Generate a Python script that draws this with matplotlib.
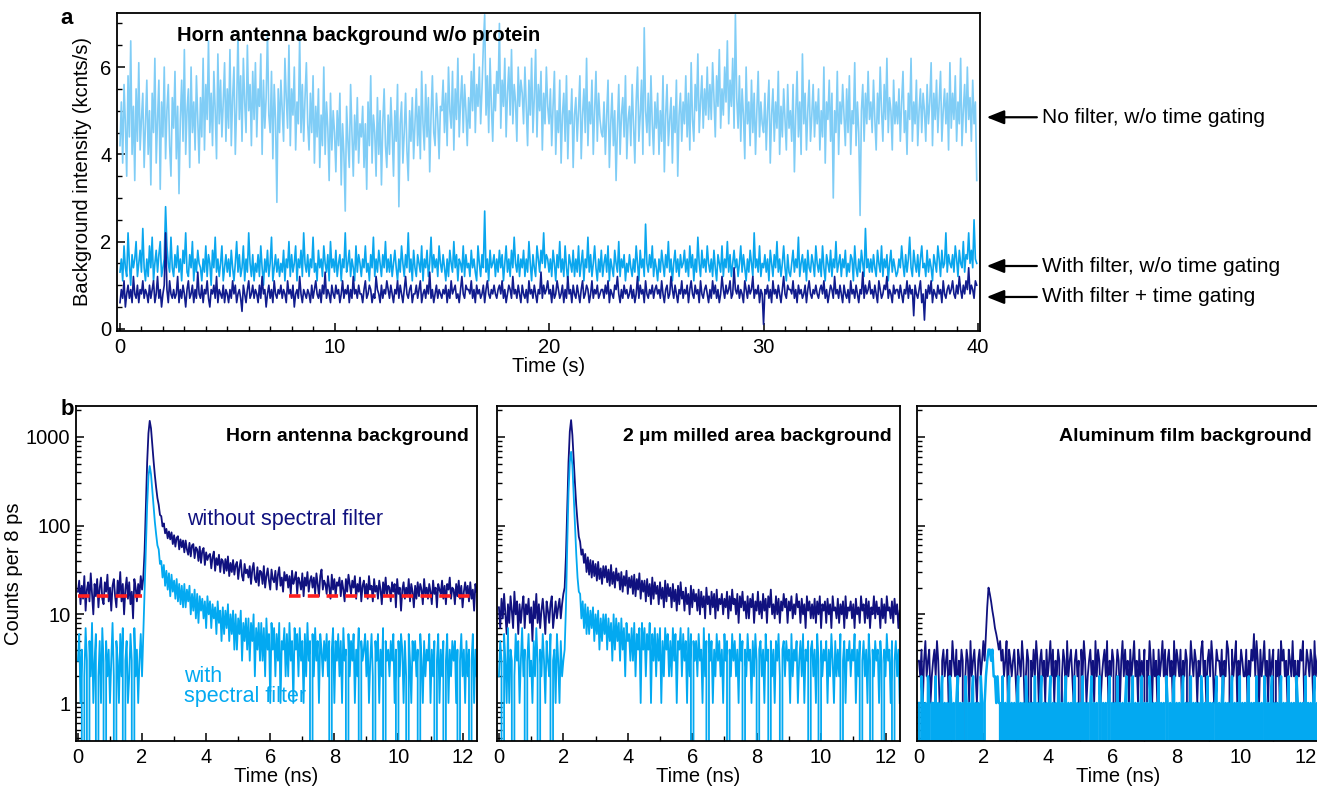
import numpy as np
import matplotlib
matplotlib.use("Agg")
import matplotlib.pyplot as plt
from matplotlib.ticker import MultipleLocator, LogLocator, NullFormatter, FixedLocator

# =========================
# Data
# =========================
# (a) background intensity traces, 62.5 ms bins, values in units of 0.1 kcnts/s
time_bin_s = 0.0625
no_filter = [
    42, 52, 38, 56, 47, 35, 58, 44, 66, 40, 51, 34, 55, 43, 61, 41, 48, 54, 37, 47,
    57, 40, 50, 33, 54, 45, 62, 38, 48, 57, 32, 52, 44, 60, 39, 50, 56, 42, 35, 53,
    46, 59, 39, 51, 31, 48, 57, 43, 64, 40, 50, 55, 37, 60, 45, 52, 41, 58, 48, 38,
    53, 44, 62, 41, 56, 48, 66, 45, 54, 42, 59, 50, 39, 63, 47, 57, 44, 52, 61, 43,
    55, 46, 64, 42, 53, 60, 40, 51, 68, 48, 58, 43, 62, 52, 45, 65, 50, 56, 42, 59,
    48, 61, 44, 55, 51, 63, 40, 57, 46, 53, 68, 49, 45, 59, 39, 56, 48, 29, 55, 45,
    57, 50, 43, 62, 53, 46, 65, 42, 55, 49, 60, 41, 52, 47, 67, 45, 56, 43, 53, 61,
    47, 41, 54, 45, 58, 38, 51, 44, 55, 37, 49, 42, 60, 40, 52, 46, 34, 54, 41, 50,
    45, 36, 50, 42, 54, 33, 47, 40, 27, 51, 43, 37, 56, 45, 35, 49, 41, 53, 38, 47,
    44, 51, 37, 47, 32, 52, 42, 58, 38, 49, 45, 35, 53, 40, 50, 33, 47, 55, 42, 37,
    49, 40, 53, 45, 35, 50, 43, 56, 28, 47, 52, 38, 45, 54, 41, 34, 50, 43, 53, 39,
    47, 55, 42, 51, 39, 59, 47, 41, 56, 44, 53, 36, 49, 58, 45, 42, 54, 48, 39, 51,
    50, 57, 45, 54, 42, 60, 50, 46, 59, 41, 55, 48, 62, 44, 52, 58, 45, 56, 50, 42,
    53, 46, 59, 50, 63, 45, 56, 51, 60, 47, 55, 65, 72, 49, 58, 45, 62, 51, 43, 56,
    50, 59, 54, 70, 46, 57, 51, 62, 44, 54, 60, 49, 64, 47, 56, 52, 43, 60, 51, 57,
    54, 47, 60, 51, 42, 57, 49, 62, 45, 53, 64, 44, 56, 50, 59, 41, 54, 47, 60, 51,
    47, 55, 42, 51, 59, 40, 50, 45, 57, 38, 49, 54, 43, 58, 39, 50, 47, 55, 37, 49,
    53, 43, 50, 58, 39, 49, 55, 45, 62, 42, 52, 47, 57, 40, 50, 59, 43, 54, 48, 45,
    44, 52, 40, 49, 57, 37, 47, 54, 42, 50, 34, 46, 56, 40, 49, 53, 44, 58, 39, 48,
    51, 42, 56, 47, 38, 52, 60, 43, 49, 57, 40, 69, 50, 45, 54, 42, 58, 47, 40, 52,
    46, 54, 40, 50, 43, 58, 36, 49, 56, 42, 48, 53, 38, 51, 45, 57, 35, 49, 54, 43,
    52, 47, 58, 44, 54, 41, 61, 48, 43, 56, 50, 63, 45, 52, 58, 46, 55, 49, 60, 48,
    56, 48, 61, 53, 44, 58, 51, 64, 46, 55, 49, 60, 52, 66, 47, 57, 51, 62, 46, 72,
    53, 46, 58, 43, 55, 49, 39, 60, 47, 52, 42, 57, 45, 54, 40, 50, 59, 44, 52, 47,
    45, 54, 41, 50, 57, 38, 49, 55, 43, 52, 46, 59, 40, 51, 44, 55, 48, 41, 56, 46,
    50, 43, 56, 36, 49, 59, 44, 52, 40, 63, 47, 54, 41, 50, 57, 43, 49, 56, 44, 52,
    47, 55, 41, 50, 44, 60, 38, 52, 48, 57, 43, 54, 30, 50, 45, 59, 40, 52, 47, 56,
    49, 42, 55, 45, 58, 40, 50, 47, 61, 42, 52, 45, 26, 50, 56, 43, 54, 47, 59, 48,
    52, 45, 57, 48, 41, 54, 47, 60, 50, 43, 56, 48, 62, 45, 53, 50, 41, 57, 47, 52,
    47, 55, 43, 52, 59, 45, 50, 40, 54, 48, 62, 43, 52, 47, 57, 42, 50, 55, 45, 54,
    50, 43, 56, 47, 52, 61, 42, 54, 48, 57, 45, 52, 59, 43, 50, 55, 47, 54, 41, 61,
    46, 54, 48, 58, 43, 52, 47, 62, 42, 50, 56, 45, 60, 48, 53, 43, 57, 47, 52, 34,
]
with_filter = [
    13, 16, 11, 19, 14, 12, 22, 15, 10, 17, 14, 16, 20, 12, 15, 18, 13, 23, 14, 11,
    16, 12, 19, 14, 21, 11, 15, 18, 13, 17, 20, 12, 14, 16, 28, 19, 15, 13, 21, 14,
    12, 17, 14, 19, 13, 16, 11, 18, 15, 22, 13, 12, 17, 14, 20, 11, 16, 13, 18, 15,
    14, 11, 16, 13, 19, 12, 17, 15, 10, 18, 14, 21, 13, 16, 12, 15, 19, 11, 14, 17,
    13, 16, 12, 18, 14, 11, 15, 20, 13, 17, 12, 14, 19, 11, 16, 13, 22, 15, 12, 17,
    11, 15, 13, 17, 12, 19, 14, 10, 16, 13, 18, 12, 15, 21, 11, 14, 17, 13, 16, 12,
    15, 13, 18, 11, 16, 14, 20, 12, 17, 13, 15, 19, 11, 16, 14, 18, 12, 22, 15, 13,
    17, 12, 16, 14, 21, 13, 15, 11, 18, 14, 16, 12, 19, 15, 13, 17, 11, 20, 14, 16,
    13, 18, 12, 15, 17, 11, 16, 14, 22, 13, 15, 18, 12, 16, 14, 11, 19, 13, 17, 15,
    12, 16, 14, 19, 13, 15, 11, 17, 14, 21, 12, 16, 13, 18, 15, 12, 17, 14, 20, 13,
    16, 13, 17, 12, 15, 18, 14, 11, 16, 13, 19, 15, 12, 17, 14, 22, 13, 16, 11, 18,
    14, 12, 17, 15, 13, 19, 11, 16, 14, 18, 12, 15, 21, 13, 17, 14, 16, 12, 19, 15,
    13, 17, 14, 11, 16, 12, 18, 15, 13, 20, 14, 17, 11, 16, 15, 13, 19, 12, 17, 14,
    15, 12, 18, 14, 16, 13, 11, 19, 15, 12, 17, 14, 27, 13, 16, 11, 18, 14, 15, 17,
    12, 16, 13, 18, 14, 17, 11, 15, 19, 13, 16, 12, 18, 14, 21, 15, 13, 17, 12, 16,
    14, 18, 12, 16, 13, 20, 15, 11, 17, 14, 12, 19, 16, 13, 18, 15, 22, 14, 17, 16,
    13, 16, 12, 18, 15, 11, 17, 14, 20, 13, 16, 12, 19, 14, 11, 17, 15, 13, 18, 12,
    16, 13, 19, 12, 15, 18, 11, 16, 14, 21, 13, 17, 12, 15, 19, 14, 11, 16, 13, 18,
    12, 15, 17, 13, 19, 11, 16, 14, 12, 18, 15, 13, 20, 12, 16, 14, 17, 11, 15, 13,
    17, 14, 12, 16, 13, 19, 15, 11, 18, 14, 16, 12, 24, 15, 13, 17, 14, 19, 12, 16,
    14, 11, 16, 13, 18, 15, 12, 17, 14, 20, 13, 16, 11, 15, 18, 13, 16, 12, 17, 14,
    15, 18, 13, 16, 12, 19, 14, 17, 11, 16, 13, 21, 15, 12, 18, 14, 16, 13, 19, 15,
    13, 16, 12, 18, 14, 11, 17, 15, 13, 19, 12, 16, 14, 20, 13, 17, 12, 15, 18, 14,
    16, 12, 15, 19, 13, 17, 14, 11, 16, 13, 18, 15, 12, 22, 14, 16, 13, 19, 12, 15,
    14, 17, 13, 16, 11, 18, 15, 12, 17, 14, 20, 13, 16, 12, 15, 19, 14, 11, 17, 13,
    12, 15, 18, 13, 16, 14, 21, 12, 15, 17, 13, 16, 11, 18, 14, 13, 17, 15, 12, 19,
    15, 13, 16, 12, 19, 14, 11, 17, 15, 13, 18, 12, 16, 14, 20, 13, 15, 17, 12, 16,
    14, 18, 12, 15, 13, 17, 16, 11, 19, 14, 12, 16, 13, 18, 15, 12, 23, 14, 16, 13,
    16, 13, 17, 14, 12, 18, 15, 13, 19, 12, 16, 14, 17, 11, 15, 18, 13, 16, 14, 12,
    13, 16, 14, 19, 15, 12, 17, 13, 16, 21, 14, 12, 18, 15, 13, 17, 12, 16, 19, 14,
    15, 12, 18, 13, 16, 14, 11, 17, 15, 13, 19, 16, 12, 18, 14, 15, 22, 13, 17, 15,
    14, 17, 13, 19, 16, 12, 18, 15, 14, 20, 13, 17, 16, 22, 15, 18, 14, 25, 16, 15,
]
filter_gated = [
    6, 9, 7, 11, 5, 8, 10, 7, 9, 6, 12, 8, 7, 10, 6, 9, 8, 11, 7, 9,
    8, 6, 10, 7, 9, 11, 6, 8, 12, 7, 9, 5, 8, 10, 22, 9, 6, 11, 8, 7,
    9, 7, 8, 12, 6, 9, 7, 10, 8, 5, 9, 11, 7, 8, 10, 6, 9, 7, 13, 8,
    7, 10, 6, 9, 8, 11, 7, 5, 9, 8, 10, 7, 12, 6, 9, 8, 7, 10, 6, 9,
    8, 6, 9, 7, 11, 8, 10, 6, 8, 9, 7, 4, 10, 8, 6, 9, 11, 7, 8, 10,
    7, 9, 8, 6, 10, 7, 12, 8, 9, 5, 8, 10, 7, 9, 6, 11, 8, 7, 9, 8,
    10, 7, 9, 8, 6, 11, 8, 9, 7, 10, 5, 8, 9, 7, 12, 8, 6, 9, 8, 7,
    9, 8, 6, 10, 7, 9, 11, 8, 7, 9, 6, 10, 8, 13, 7, 9, 8, 6, 10, 8,
    7, 10, 8, 9, 6, 8, 11, 7, 9, 8, 10, 6, 9, 7, 12, 8, 9, 7, 10, 8,
    8, 6, 9, 11, 7, 8, 10, 9, 6, 8, 7, 12, 9, 8, 6, 10, 7, 9, 8, 11,
    9, 7, 10, 8, 6, 9, 8, 11, 7, 10, 8, 6, 9, 12, 8, 7, 9, 10, 6, 8,
    8, 10, 7, 9, 11, 6, 8, 9, 7, 10, 8, 13, 7, 9, 6, 8, 10, 7, 9, 8,
    7, 9, 8, 10, 6, 9, 7, 11, 8, 9, 10, 7, 8, 6, 9, 12, 8, 7, 10, 9,
    9, 8, 11, 7, 9, 6, 10, 8, 9, 7, 8, 10, 6, 9, 11, 8, 7, 9, 8, 10,
    8, 7, 9, 10, 8, 11, 7, 9, 6, 8, 10, 9, 7, 12, 8, 9, 7, 10, 8, 6,
    10, 8, 7, 9, 6, 11, 8, 9, 7, 10, 8, 6, 9, 8, 13, 7, 10, 8, 9, 11,
    8, 9, 6, 10, 7, 8, 11, 9, 7, 8, 10, 6, 9, 7, 12, 8, 9, 6, 10, 8,
    7, 10, 8, 6, 9, 11, 7, 8, 10, 9, 6, 8, 11, 7, 9, 8, 10, 7, 8, 9,
    9, 7, 10, 8, 11, 6, 9, 8, 7, 10, 9, 12, 8, 6, 9, 7, 10, 8, 9, 7,
    8, 10, 7, 9, 6, 8, 12, 7, 10, 8, 9, 6, 11, 8, 7, 9, 8, 10, 7, 9,
    10, 8, 9, 7, 11, 8, 6, 9, 10, 7, 8, 12, 9, 7, 10, 8, 6, 9, 8, 11,
    7, 9, 8, 10, 6, 9, 11, 8, 7, 10, 8, 9, 6, 11, 8, 7, 9, 10, 8, 6,
    9, 7, 11, 8, 10, 7, 9, 6, 8, 12, 9, 7, 10, 8, 9, 11, 7, 8, 14, 9,
    8, 10, 7, 9, 8, 6, 11, 9, 7, 10, 8, 9, 12, 7, 9, 8, 10, 6, 9, 8,
    1, 9, 8, 10, 7, 9, 6, 11, 8, 9, 7, 10, 8, 6, 9, 12, 8, 7, 10, 9,
    9, 8, 11, 7, 9, 6, 10, 8, 9, 7, 8, 10, 6, 9, 11, 8, 7, 9, 8, 10,
    8, 7, 9, 10, 8, 11, 7, 9, 6, 8, 10, 9, 7, 12, 8, 9, 7, 10, 8, 6,
    10, 8, 7, 9, 6, 11, 8, 9, 7, 10, 8, 6, 9, 8, 13, 7, 10, 8, 9, 11,
    8, 9, 7, 10, 8, 6, 11, 9, 7, 8, 10, 9, 12, 7, 9, 8, 6, 10, 8, 9,
    9, 7, 10, 8, 6, 9, 8, 11, 7, 10, 8, 9, 3, 10, 8, 7, 9, 11, 6, 8,
    2, 9, 7, 10, 8, 11, 6, 9, 8, 7, 10, 8, 9, 6, 11, 8, 7, 9, 10, 8,
    9, 11, 8, 7, 10, 8, 12, 9, 7, 10, 8, 11, 9, 14, 8, 10, 9, 7, 11, 10,
]
trace_labels = ["No filter, w/o time gating", "With filter, w/o time gating",
                "With filter + time gating"]
trace_label_y = [4.85, 1.44, 0.73]

# (b) photon arrival-time histograms, counts per 8 ps, sampled every 40 ps
decay_bin_ns = 0.04
horn_nofilter = [
    18, 24, 13, 21, 15, 27, 11, 19, 23, 14, 29, 17, 10, 22, 16, 25, 12, 20, 26, 15,
    13, 23, 18, 28, 14, 20, 11, 21, 25, 16, 12, 24, 17, 30, 14, 22, 10, 19, 26, 15,
    23, 13, 18, 9, 25, 20, 14, 22, 16, 27, 19,
    26, 52, 160, 520, 1100, 1520, 1250, 820, 540, 370, 270, 205,
    172, 132, 128, 98, 106, 82, 92, 72, 86, 70, 84, 62, 78, 58, 73, 76, 54, 70, 57, 68,
    50, 68, 54, 47, 64, 45, 60, 62, 43, 57, 54, 40, 58, 38, 52, 56, 36, 50, 41, 46,
    48, 33, 44, 51, 31, 43, 36, 47, 30, 42, 40, 29, 42, 31, 45, 27, 38, 30, 41, 28,
    36, 39, 25, 34, 41, 27, 24, 37, 29, 32, 26, 35, 22, 32, 38, 25, 23, 34, 21, 31,
    30, 22, 35, 20, 27, 33, 24, 19, 32, 25, 23, 31, 19, 28, 34, 21, 26, 18, 30, 24,
    28, 20, 27, 17, 31, 22, 25, 30, 17, 26, 23, 19, 29, 16, 26, 21, 30, 18, 24, 27,
    20, 26, 17, 29, 22, 16, 27, 32, 19, 24, 22, 17, 27, 20, 15, 28, 19, 25, 16, 23,
    21, 26, 16, 24, 19, 14, 25, 18, 28, 22, 17, 24, 20, 27, 15, 22, 18, 26, 14, 21,
    24, 16, 22, 15, 27, 19, 21, 14, 25, 18, 21, 15, 24, 19, 13, 23, 17, 26, 16, 21,
    20, 14, 23, 18, 22, 12, 25, 17, 20, 11, 19, 23, 15, 20, 16, 25, 14, 22, 18, 12,
    21, 15, 23, 16, 22, 19, 13, 25, 17, 20, 15, 22, 18, 13, 24, 17, 20, 12, 22, 19,
    17, 24, 15, 21, 13, 22, 19, 26, 15, 20, 19, 13, 22, 16, 24, 15, 21, 12, 18, 23,
    17, 21, 14, 23, 15, 19, 11, 22, 18,
]
horn_filter = [
    3, 6, 1, 4, 0, 2, 7, 3, 0, 5, 2, 8, 1, 3, 6, 0, 2, 5, 1, 7,
    3, 0, 5, 2, 4, 1, 3, 8, 2, 0, 5, 3, 1, 6, 2, 7, 0, 3, 5, 1,
    2, 6, 3, 0, 7, 2, 4, 1, 3, 6, 2,
    6, 18, 55, 170, 360, 470, 380, 250, 160, 110, 80, 60,
    54, 37, 40, 26, 36, 21, 31, 19, 29, 16, 28, 18, 24, 15, 25, 14, 22, 13, 21, 12,
    22, 12, 19, 14, 21, 10, 17, 11, 19, 9, 17, 8, 16, 11, 15, 9, 14, 7, 16, 10,
    14, 7, 13, 9, 12, 6, 14, 8, 11, 5, 12, 6, 11, 7, 13, 5, 10, 6, 11, 4,
    10, 4, 9, 6, 11, 3, 8, 5, 9, 4, 9, 3, 8, 5, 10, 2, 7, 4, 8, 3,
    8, 3, 7, 2, 9, 4, 6, 1, 8, 4, 7, 2, 6, 3, 8, 1, 5, 4, 7, 2,
    6, 2, 8, 3, 5, 1, 7, 4, 6, 2, 7, 3, 5, 1, 6, 2, 8, 3, 5, 0,
    6, 2, 7, 3, 5, 1, 6, 4, 2, 5, 3, 6, 2, 5, 0, 4, 7, 1, 5, 3,
    6, 2, 5, 1, 7, 3, 4, 0, 6, 2, 5, 3, 6, 1, 4, 2, 7, 0, 5, 3,
    4, 6, 2, 5, 1, 3, 6, 2, 0, 5, 3, 6, 1, 4, 2, 7, 0, 5, 3, 4,
    2, 5, 3, 6, 1, 4, 0, 5, 2, 6, 4, 1, 5, 2, 0, 6, 3, 1, 5, 3,
    5, 2, 4, 0, 6, 3, 1, 5, 2, 4, 3, 6, 1, 4, 2, 5, 0, 3, 6, 1,
    4, 2, 5, 0, 3, 6, 1, 4, 2, 5, 3, 5, 1, 4, 0, 3, 6, 2, 4, 1,
    5, 2, 4, 0, 3, 6, 1, 4, 2,
]
milled_nofilter = [
    12, 7, 15, 9, 17, 10, 6, 13, 8, 16, 11, 7, 18, 10, 14, 6, 13, 8, 12, 16,
    7, 13, 10, 15, 8, 12, 5, 14, 9, 17, 8, 13, 7, 11, 15, 10, 6, 14, 11, 8,
    13, 16, 7, 10, 14, 9, 12, 15, 9, 13, 17,
    20, 45, 150, 520, 1150, 1550, 1050, 560, 300, 170, 110, 75,
    66, 47, 54, 38, 48, 30, 44, 28, 41, 26, 40, 27, 37, 24, 39, 25, 33, 22, 35, 26,
    35, 23, 32, 21, 36, 22, 30, 20, 33, 24, 29, 19, 30, 18, 27, 21, 31, 17, 26, 20,
    27, 17, 28, 16, 25, 19, 29, 15, 24, 18, 24, 14, 25, 16, 22, 13, 26, 15, 23, 17,
    21, 13, 23, 15, 20, 12, 24, 14, 22, 16, 20, 12, 22, 14, 19, 11, 21, 13, 23, 15,
    18, 11, 20, 13, 17, 10, 21, 12, 19, 14, 17, 11, 19, 10, 18, 12, 16, 9, 20, 13,
    16, 10, 18, 12, 17, 9, 19, 11, 15, 13, 17, 10, 15, 12, 18, 9, 16, 11, 19, 13,
    15, 10, 17, 8, 16, 12, 18, 11, 14, 9, 16, 9, 15, 12, 17, 8, 14, 11, 18, 10,
    14, 9, 17, 11, 15, 8, 16, 12, 19, 10, 13, 9, 16, 10, 15, 8, 14, 11, 17, 12,
    15, 8, 14, 11, 16, 9, 13, 10, 17, 12, 14, 8, 15, 10, 13, 7, 16, 11, 14, 9,
    13, 9, 15, 8, 14, 10, 16, 7, 13, 11, 14, 8, 15, 10, 13, 7, 16, 11, 12, 9,
    15, 8, 13, 10, 14, 7, 16, 9, 12, 11, 14, 9, 13, 7, 15, 10, 12, 8, 16, 11,
    13, 8, 15, 9, 14, 7, 12, 10, 16, 9, 14, 10, 12, 7, 15, 9, 13, 8, 16, 11,
    12, 9, 14, 8, 15, 10, 13, 7, 11,
]
milled_filter = [
    2, 5, 3, 0, 6, 3, 1, 7, 1, 4, 3, 0, 2, 6, 3, 5, 1, 3, 7, 2,
    4, 0, 3, 6, 2, 3, 1, 5, 2, 7, 3, 0, 4, 2, 6, 3, 1, 5, 3, 2,
    6, 0, 3, 4, 1, 6, 3, 1, 5, 2, 3,
    4, 12, 60, 240, 520, 680, 480, 220, 100, 48, 26, 18,
    17, 9, 14, 7, 13, 6, 12, 6, 11, 7, 12, 5, 10, 6, 11, 4, 9, 5, 10, 6,
    10, 4, 9, 5, 8, 3, 10, 4, 9, 5, 8, 3, 9, 4, 7, 2, 8, 5, 6, 3,
    7, 3, 8, 2, 6, 4, 7, 1, 8, 4, 7, 2, 6, 4, 8, 1, 6, 3, 7, 2,
    6, 3, 7, 1, 5, 2, 7, 4, 6, 2, 5, 2, 7, 3, 6, 1, 5, 4, 7, 2,
    6, 3, 5, 1, 7, 2, 6, 0, 5, 3, 5, 2, 6, 3, 4, 1, 7, 2, 5, 0,
    6, 3, 5, 1, 4, 2, 6, 3, 5, 2, 4, 1, 6, 3, 5, 0, 4, 2, 6, 3,
    5, 2, 4, 1, 6, 3, 5, 0, 4, 2, 6, 3, 4, 1, 5, 2, 6, 3, 0, 4,
    5, 2, 4, 1, 6, 3, 4, 0, 5, 2, 4, 1, 5, 3, 6, 2, 0, 4, 5, 2,
    5, 3, 4, 1, 6, 2, 4, 3, 5, 1, 3, 5, 2, 6, 1, 4, 3, 5, 0, 4,
    5, 2, 4, 1, 6, 3, 0, 5, 2, 4, 3, 5, 1, 4, 2, 6, 3, 1, 5, 2,
    4, 2, 6, 0, 3, 5, 1, 4, 3, 5, 2, 4, 3, 6, 1, 4, 2, 5, 0, 3,
    5, 2, 4, 1, 6, 3, 0, 4, 2, 5, 3, 4, 1, 5, 3, 0, 4, 2, 6, 3,
    4, 1, 5, 0, 3, 5, 2, 4, 1,
]
alu_nofilter = [
    3, 2, 4, 1, 3, 5, 2, 3, 4, 1, 2, 3, 4, 2, 5, 3, 1, 0, 3, 4,
    2, 3, 4, 1, 3, 2, 5, 3, 2, 4, 1, 3, 2, 4, 3, 0, 2, 4, 3, 1,
    5, 2, 3, 4, 2, 1, 3, 4, 2, 3, 5,
    3, 6, 12, 20, 17, 14, 11, 9, 7, 6, 5, 4,
    5, 3, 4, 2, 3, 5, 1, 4, 3, 2, 3, 4, 2, 1, 4, 3, 2, 5, 3, 1,
    2, 4, 3, 0, 3, 2, 4, 2, 5, 3, 1, 3, 4, 2, 3, 1, 4, 2, 3, 5,
    2, 4, 1, 3, 2, 4, 3, 0, 2, 4, 3, 1, 5, 2, 3, 4, 2, 1, 3, 4,
    2, 3, 0, 4, 2, 5, 3, 1, 2, 3, 4, 2, 3, 1, 5, 2, 4, 3, 1, 2,
    3, 4, 2, 5, 1, 3, 2, 4, 3, 0, 2, 4, 3, 1, 3, 5, 2, 4, 2, 3,
    1, 4, 2, 3, 5, 2, 3, 1, 4, 2, 3, 2, 4, 0, 3, 2, 5, 3, 1, 4,
    2, 3, 1, 4, 2, 3, 5, 2, 4, 1, 3, 4, 2, 3, 1, 5, 2, 4, 3, 2,
    4, 1, 3, 2, 4, 3, 0, 2, 5, 3, 2, 4, 3, 1, 3, 2, 4, 5, 2, 3,
    1, 3, 4, 2, 5, 3, 1, 2, 4, 3, 3, 2, 4, 1, 3, 2, 5, 4, 2, 0,
    4, 2, 3, 5, 1, 3, 2, 4, 3, 2, 2, 4, 1, 3, 2, 4, 3, 6, 2, 5,
    3, 1, 4, 2, 3, 5, 2, 3, 1, 4, 2, 3, 4, 0, 3, 2, 4, 1, 5, 3,
    4, 2, 3, 1, 4, 3, 2, 5, 2, 3, 1, 3, 2, 4, 3, 5, 1, 2, 4, 3,
    2, 4, 3, 1, 5, 2, 3, 4, 2,
]
alu_filter = [
    1, 0, 2, 1, 0, 1, 0, 2, 1, 0, 1, 1, 0, 2, 0, 1, 0, 1, 2, 0,
    1, 0, 1, 0, 2, 1, 0, 1, 0, 1, 2, 0, 1, 0, 1, 0, 2, 1, 0, 1,
    0, 1, 2, 0, 1, 0, 1, 0, 2, 1, 0,
    1, 2, 3, 4, 4, 3, 4, 2, 2, 1, 2, 1,
    1, 0, 2, 0, 1, 0, 1, 2, 0, 1, 0, 1, 0, 1, 2, 0, 1, 0, 1, 0,
    2, 1, 0, 1, 0, 1, 0, 2, 0, 1, 0, 1, 2, 0, 1, 0, 1, 0, 1, 2,
    0, 1, 0, 1, 0, 2, 1, 0, 1, 0, 1, 2, 0, 1, 0, 1, 0, 1, 2, 0,
    1, 0, 1, 0, 2, 0, 1, 0, 1, 0, 1, 2, 0, 1, 0, 1, 0, 2, 1, 0,
    1, 0, 1, 0, 1, 2, 0, 1, 0, 1, 0, 2, 0, 1, 0, 1, 0, 1, 2, 0,
    1, 0, 1, 2, 0, 1, 0, 1, 0, 1, 2, 0, 1, 0, 1, 0, 2, 1, 0, 1,
    0, 1, 0, 2, 0, 1, 0, 1, 0, 2, 1, 0, 1, 0, 1, 2, 0, 1, 0, 1,
    0, 1, 2, 0, 1, 0, 1, 0, 2, 0, 1, 0, 1, 0, 1, 0, 2, 1, 0, 1,
    0, 2, 0, 1, 0, 1, 0, 1, 2, 0, 1, 0, 1, 2, 0, 1, 0, 1, 0, 1,
    2, 0, 1, 0, 1, 0, 2, 0, 1, 0, 1, 0, 1, 2, 0, 1, 0, 1, 0, 2,
    0, 1, 0, 1, 0, 2, 1, 0, 1, 0, 1, 2, 0, 1, 0, 1, 0, 1, 2, 0,
    1, 0, 1, 0, 2, 0, 1, 0, 1, 0, 2, 1, 0, 1, 0, 1, 0, 2, 0, 1,
    0, 1, 0, 1, 2, 0, 1, 0, 1,
]
horn_bg_level = 16
horn_bg_spans = [(0.0, 2.0), (6.6, 12.45)]

# =========================
# Style
# =========================
plt.rcParams.update({
    "font.family": ["Liberation Sans", "DejaVu Sans"],
    "font.size": 14.5,
    "axes.linewidth": 1.3,
    "xtick.direction": "in",
    "ytick.direction": "in",
    "xtick.major.size": 6,
    "ytick.major.size": 6,
    "xtick.minor.size": 3.5,
    "ytick.minor.size": 3.5,
    "xtick.major.width": 1.1,
    "ytick.major.width": 1.1,
    "xtick.minor.width": 1.0,
    "ytick.minor.width": 1.0,
    "xtick.major.pad": 5,
    "ytick.major.pad": 4,
})

sky = "#80CDF6"
mid_blue = "#0AA6EE"
navy = "#111C8E"
dark = "#10117F"
cyan = "#03A9F1"
red = "#FF1F1F"

W, H = 1317, 792
fig = plt.figure(figsize=(W / 100, H / 100), dpi=100)


def px_axes(x0, y0, x1, y1):
    return fig.add_axes([x0 / W, 1 - y1 / H, (x1 - x0) / W, (y1 - y0) / H])


# =========================
# (a) time traces
# =========================
ax_a = px_axes(117, 13, 980, 331)
for vals, col in [(no_filter, sky), (with_filter, mid_blue), (filter_gated, navy)]:
    t = np.arange(len(vals)) * time_bin_s
    ax_a.plot(t, np.array(vals) / 10, color=col, lw=1.2)

ax_a.set_xlim(-0.14, 40.09)
ax_a.set_ylim(-0.05, 7.24)
ax_a.xaxis.set_major_locator(MultipleLocator(10))
ax_a.xaxis.set_minor_locator(MultipleLocator(1))
ax_a.yaxis.set_major_locator(MultipleLocator(2))
ax_a.yaxis.set_minor_locator(MultipleLocator(0.5))
ax_a.set_xlabel("Time (s)", labelpad=0)
ax_a.set_ylabel("Background intensity (kcnts/s)", labelpad=6)
ax_a.text(0.07, 0.93, "Horn antenna background w/o protein", transform=ax_a.transAxes,
          ha="left", va="center", fontweight="bold", fontsize=14.5)

for lab, yv in zip(trace_labels, trace_label_y):
    ax_a.annotate(lab, xy=(40.4, yv), xytext=(43.0, yv), xycoords="data",
                  textcoords="data", ha="left", va="center", fontsize=15,
                  annotation_clip=False,
                  arrowprops=dict(arrowstyle="-|>,head_length=0.7,head_width=0.28",
                                  color="black", lw=1.6, shrinkA=2, shrinkB=0))

fig.text(67 / W, 1 - 18 / H, "a", fontweight="bold", fontsize=16, ha="center", va="center")
fig.text(67 / W, 1 - 410 / H, "b", fontweight="bold", fontsize=16, ha="center", va="center")


# =========================
# (b) decay histograms
# =========================
def draw_decay(ax, nofilt, filt, title, show_ylabels, lw_filt=1.3):
    t1 = np.arange(len(nofilt)) * decay_bin_ns
    t2 = np.arange(len(filt)) * decay_bin_ns
    ax.plot(t1, nofilt, color=dark, lw=1.3)
    ax.plot(t2, filt, color=cyan, lw=lw_filt)
    ax.set_yscale("log")
    ax.set_xlim(-0.06, 12.45)
    ax.set_ylim(0.373, 2235)
    ax.xaxis.set_major_locator(MultipleLocator(2))
    ax.xaxis.set_minor_locator(MultipleLocator(1))
    ax.yaxis.set_major_locator(FixedLocator([1, 10, 100, 1000]))
    ax.yaxis.set_minor_locator(LogLocator(base=10, subs=np.arange(2, 10)))
    ax.yaxis.set_minor_formatter(NullFormatter())
    if show_ylabels:
        ax.set_yticklabels(["1", "10", "100", "1000"])
        ax.set_ylabel("Counts per 8 ps", labelpad=2)
    else:
        ax.set_yticklabels([])
    ax.set_xlabel("Time (ns)", labelpad=0)
    ax.text(0.98, 0.91, title, transform=ax.transAxes, ha="right", va="center",
            fontweight="bold", fontsize=14)


ax_b1 = px_axes(76, 406, 477, 741)
ax_b2 = px_axes(497, 406, 900, 741)
ax_b3 = px_axes(917, 406, 1320, 741)

draw_decay(ax_b1, horn_nofilter, horn_filter, "Horn antenna background", True)
draw_decay(ax_b2, milled_nofilter, milled_filter, "2 µm milled area background", False)
draw_decay(ax_b3, alu_nofilter, alu_filter, "Aluminum film background", False, lw_filt=1.8)

for x0, x1 in horn_bg_spans:
    ax_b1.plot([x0, x1], [horn_bg_level, horn_bg_level], color=red, lw=2.6,
               linestyle=(0, (3.2, 2.0)))

ax_b1.text(3.4, 118, "without spectral filter", color=dark, fontsize=15.5,
           ha="left", va="center")
ax_b1.text(3.3, 2.0, "with", color=cyan, fontsize=15.5, ha="left", va="center")
ax_b1.text(3.3, 1.17, "spectral filter", color=cyan, fontsize=15.5, ha="left", va="center")

fig.savefig("out.png", dpi=100, facecolor="white")
